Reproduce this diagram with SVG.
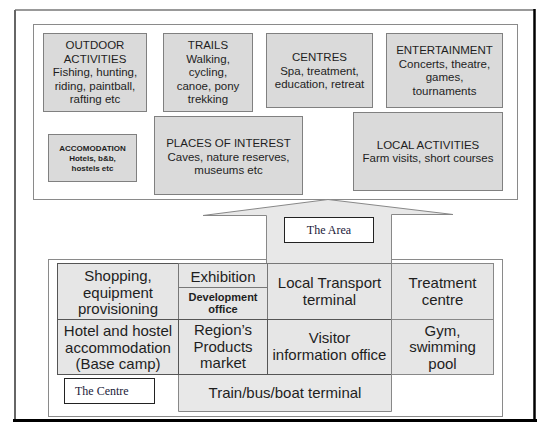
<svg xmlns="http://www.w3.org/2000/svg" width="540" height="423" viewBox="0 0 540 423">
<style>
.box{fill:#dadada;stroke:#808080;stroke-width:1}
.cell{fill:#e6e6e6;stroke:#555;stroke-width:1}
.frame{fill:#ffffff;stroke:#8a8a8a;stroke-width:1}
.t{font-family:"Liberation Sans",Arial,sans-serif;font-size:11.5px;fill:#1e1e1e;text-anchor:middle}
.s{font-family:"Liberation Sans",Arial,sans-serif;font-size:8px;font-weight:bold;fill:#1e1e1e;text-anchor:middle}
.c{font-family:"Liberation Sans",Arial,sans-serif;font-size:15px;fill:#1e1e1e;text-anchor:middle}
.cb{font-family:"Liberation Sans",Arial,sans-serif;font-size:11px;font-weight:bold;fill:#1e1e1e;text-anchor:middle}
.lbl{fill:#ffffff;stroke:#222;stroke-width:1}
.serif{font-family:"Liberation Serif","Times New Roman",serif;font-size:12px;fill:#1a1a3a}
</style>
<rect x="0" y="0" width="540" height="423" fill="#ffffff"/>
<!-- outer frame -->
<g id="outer-frame">
<line x1="15" y1="10" x2="534" y2="10" stroke="#777" stroke-width="1.5"/>
<line x1="15" y1="10" x2="15" y2="420" stroke="#666" stroke-width="2"/>
<line x1="534.5" y1="9" x2="534.5" y2="421" stroke="#000" stroke-width="2.5"/>
<line x1="13" y1="420.5" x2="537" y2="420.5" stroke="#000" stroke-width="3"/>
</g>
<!-- top area frame -->
<g id="area-frame"><rect class="frame" x="33.5" y="24.5" width="484" height="175"/></g>
<g id="outdoor"><rect class="box" x="43.5" y="33.5" width="103" height="78"/>
<text class="t" x="95" y="49">OUTDOOR</text><text class="t" x="95" y="62.5">ACTIVITIES</text><text class="t" x="95" y="76">Fishing, hunting,</text><text class="t" x="95" y="89.5">riding, paintball,</text><text class="t" x="95" y="103">rafting etc</text></g>
<g id="trails"><rect class="box" x="163.5" y="33.5" width="89" height="78"/>
<text class="t" x="208" y="49">TRAILS</text><text class="t" x="208" y="62.5">Walking,</text><text class="t" x="208" y="76">cycling,</text><text class="t" x="208" y="89.5">canoe, pony</text><text class="t" x="208" y="103">trekking</text></g>
<g id="centres"><rect class="box" x="266.5" y="33.5" width="106" height="74"/>
<text class="t" x="319.5" y="61">CENTRES</text><text class="t" x="319.5" y="74.5">Spa, treatment,</text><text class="t" x="319.5" y="88">education, retreat</text></g>
<g id="entertainment"><rect class="box" x="386.5" y="33.5" width="116" height="74"/>
<text class="t" x="444.5" y="54">ENTERTAINMENT</text><text class="t" x="444.5" y="67.5">Concerts, theatre,</text><text class="t" x="444.5" y="81">games,</text><text class="t" x="444.5" y="94.5">tournaments</text></g>
<g id="accomodation"><rect class="box" x="48.5" y="134.5" width="88" height="47"/>
<text class="s" x="92.5" y="150.5">ACCOMODATION</text><text class="s" x="92.5" y="160.5">Hotels, b&amp;b,</text><text class="s" x="92.5" y="170.5">hostels etc</text></g>
<g id="places"><rect class="box" x="154.5" y="116.5" width="148" height="78"/>
<text class="t" x="228.5" y="147">PLACES OF INTEREST</text><text class="t" x="228.5" y="160.5">Caves, nature reserves,</text><text class="t" x="228.5" y="174">museums etc</text></g>
<g id="local-activities"><rect class="box" x="353.5" y="112.5" width="149" height="78"/>
<text class="t" x="428" y="148.5">LOCAL ACTIVITIES</text><text class="t" x="428" y="162">Farm visits, short courses</text></g>
<!-- centre frame -->
<g id="centre-frame"><rect class="frame" x="48.5" y="259.5" width="454" height="157"/></g>
<!-- connector: the big arrow -->
<g id="connectors">
<polygon points="203,215.5 328,199.5 453,214.5 391.5,214.5 391.5,411.5 178.5,411.5 178.5,374.5 266.5,374.5 266.5,215.5" fill="#e8e8e8" stroke="#888" stroke-width="1"/>
</g>
<g id="the-area"><rect class="lbl" x="284.5" y="217.5" width="89" height="25"/><text class="serif" x="329" y="234" text-anchor="middle">The Area</text></g>
<!-- grid cells -->
<g id="shopping"><rect class="cell" x="57.5" y="263.5" width="121" height="56"/>
<text class="c" x="118" y="281">Shopping,</text><text class="c" x="118" y="297.5">equipment</text><text class="c" x="118" y="314">provisioning</text></g>
<g id="exhibition"><rect class="cell" x="178.5" y="263.5" width="89" height="24" style="stroke:#777"/>
<text class="c" x="223" y="282">Exhibition</text></g>
<g id="development"><rect class="cell" x="178.5" y="287.5" width="89" height="32" style="stroke:#777"/>
<text class="cb" x="223" y="300.5">Development</text><text class="cb" x="223" y="313">office</text></g>
<g id="local-transport"><rect class="cell" x="267.5" y="263.5" width="124" height="56" style="stroke:#777"/>
<text class="c" x="329.5" y="288">Local Transport</text><text class="c" x="329.5" y="304.5">terminal</text></g>
<g id="treatment"><rect class="cell" x="391.5" y="263.5" width="102" height="56" style="stroke:#888"/>
<text class="c" x="442.5" y="288">Treatment</text><text class="c" x="442.5" y="304.5">centre</text></g>
<g id="hotel"><rect class="cell" x="57.5" y="319.5" width="121" height="55"/>
<text class="c" x="118" y="336">Hotel and hostel</text><text class="c" x="118" y="352.5">accommodation</text><text class="c" x="118" y="369">(Base camp)</text></g>
<g id="regions-products"><rect class="cell" x="178.5" y="319.5" width="89" height="55"/>
<text class="c" x="223" y="335">Region’s</text><text class="c" x="223" y="351.5">Products</text><text class="c" x="223" y="368">market</text></g>
<g id="visitor"><rect class="cell" x="267.5" y="319.5" width="124" height="55"/>
<text class="c" x="329.5" y="343">Visitor</text><text class="c" x="329.5" y="359.5">information office</text></g>
<g id="gym"><rect class="cell" x="391.5" y="319.5" width="102" height="55" style="stroke:#888"/>
<text class="c" x="442.5" y="335.5">Gym,</text><text class="c" x="442.5" y="352">swimming</text><text class="c" x="442.5" y="368.5">pool</text></g>
<g id="train"><text class="c" x="285" y="397.5">Train/bus/boat terminal</text></g>
<g id="the-centre"><rect class="lbl" x="64.5" y="378.5" width="90" height="25"/><text class="serif" x="75" y="395">The Centre</text></g>
</svg>
